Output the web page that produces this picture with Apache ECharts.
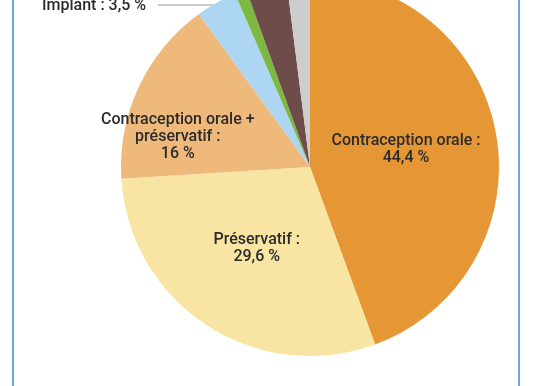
<!DOCTYPE html>
<html>
<head>
<meta charset="utf-8">
<script src="https://cdn.jsdelivr.net/npm/echarts@6/dist/echarts.min.js"></script>
<style>
html,body{margin:0;padding:0;background:#fff;}
#frame{position:absolute;left:12px;top:0;width:504px;height:386px;border-left:2px solid #6aa7e0;border-right:2px solid #6aa7e0;}
#chart{position:absolute;left:0;top:0;width:536px;height:386px;}
</style>
</head>
<body>
<div id="frame"></div>
<div id="chart"></div>
<script>
const categories = ['Contraception orale', 'Préservatif', 'Contraception orale +\npréservatif', 'Implant', 'Anneau vaginal', 'Stérilet', 'Autre'];
const values = [44.4, 29.6, 16, 3.5, 1, 3.5, 2];
const valueLabels = ['44,4 %', '29,6 %', '16 %', '3,5 %', '1 %', '3,5 %', '2 %'];
const colors = ['#E59736', '#F9E5A3', '#EFB97C', '#ADD6F3', '#7DB843', '#6E4C4A', '#CDCDCD'];

const chart = echarts.init(document.getElementById('chart'), null, {renderer: 'canvas'});
const textStyle = {fontFamily: 'Roboto', fontSize: 16, fontWeight: 500, color: '#2b2b2b', lineHeight: 17};

const data = categories.map((c, i) => {
  const item = {name: c, value: values[i], itemStyle: {color: colors[i], borderWidth: 0}};
  if (i === 0 || i === 1) {
    item.label = Object.assign({show: true, position: 'inside', formatter: c + ' :\n' + valueLabels[i], align: 'center'}, textStyle);
    item.labelLine = {show: false};
  } else if (i === 2) {
    item.label = Object.assign({show: true, position: 'inside', formatter: c + ' :\n' + valueLabels[i], align: 'center', offset: [-44, 12]}, textStyle);
    item.labelLine = {show: false};
  } else if (i === 3) {
    item.label = Object.assign({show: true, position: 'outside', formatter: c + ' : ' + valueLabels[i]}, textStyle);
    item.labelLine = {show: true, lineStyle: {color: '#bdbdbd', width: 1.5}};
  } else {
    item.label = {show: false};
    item.labelLine = {show: false};
  }
  return item;
});

chart.setOption({
  animation: false,
  backgroundColor: 'transparent',
  series: [{
    type: 'pie',
    center: [310, 167],
    radius: [0, 189],
    startAngle: 90,
    clockwise: true,
    avoidLabelOverlap: false,
    itemStyle: {borderWidth: 0},
    data: data,
    labelLayout: function (p) {
      if (p.dataIndex === 3) {
        return {
          x: 42, y: 6, align: 'left', verticalAlign: 'middle',
          labelLinePoints: [[158, 5], [190, 5], [217, 5]]
        };
      }
      return {};
    }
  }]
});
</script>
</body>
</html>
